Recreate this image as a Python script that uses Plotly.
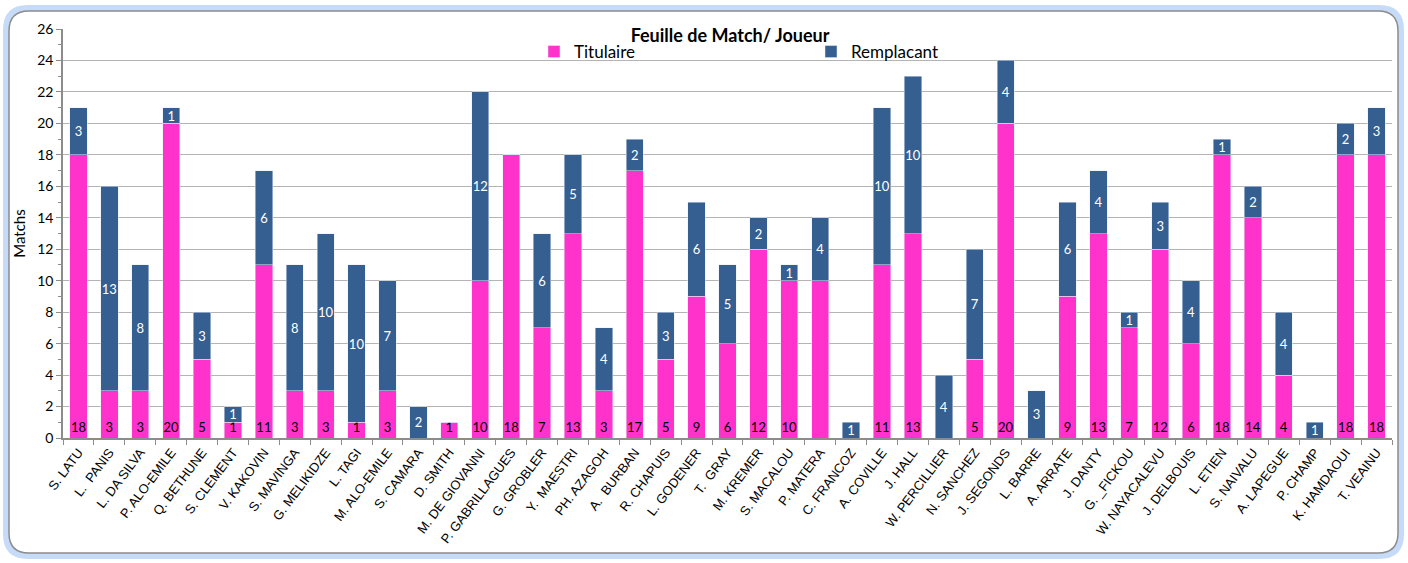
import plotly.graph_objects as go

players = ["S. LATU", "L.  PANIS", "L. DA SILVA", "P. ALO-EMILE", "Q. BETHUNE", "S. CLEMENT",
           "V. KAKOVIN", "S. MAVINGA", "G. MELIKIDZE", "L. TAGI", "M. ALO-EMILE", "S. CAMARA",
           "D. SMITH", "M. DE GIOVANNI", "P. GABRILLAGUES", "G. GROBLER", "Y.  MAESTRI",
           "PH. AZAGOH", "A.  BURBAN", "R. CHAPUIS", "L. GODENER", "T.  GRAY", "M. KREMER",
           "S. MACALOU", "P. MATERA", "C. FRANCOZ", "A. COVILLE", "J. HALL", "W. PERCILLIER",
           "N. SANCHEZ", "J. SEGONDS", "L. BARRE", "A. ARRATE", "J. DANTY", "G. _FICKOU",
           "W. NAYACALEVU", "J. DELBOUIS", "L. ETIEN", "S. NAIVALU", "A. LAPEGUE", "P. CHAMP",
           "K. HAMDAOUI", "T. VEAINU"]
titulaire = [18, 3, 3, 20, 5, 1, 11, 3, 3, 1, 3, 0, 1, 10, 18, 7, 13, 3, 17, 5, 9, 6, 12,
             10, 10, 0, 11, 13, 0, 5, 20, 0, 9, 13, 7, 12, 6, 18, 14, 4, 0, 18, 18]
remplacant = [3, 13, 8, 1, 3, 1, 6, 8, 10, 10, 7, 2, 0, 12, 0, 6, 5, 4, 2, 3, 6, 5, 2,
              1, 4, 1, 10, 10, 4, 7, 4, 3, 6, 4, 1, 3, 4, 1, 2, 4, 1, 2, 3]
# labels shown in the original (P. MATERA's starter label is not displayed)
titulaire_labels = [str(v) if v else "" for v in titulaire]
titulaire_labels[players.index("P. MATERA")] = ""
remplacant_labels = [str(v) if v else "" for v in remplacant]
y_ticks = list(range(0, 27, 2))

PINK = "#FF33CC"
BLUE = "#355F91"
CAL = "Lato, Carlito, sans-serif"

W, H = 1408, 563
ML, MR, MT, MB = 63, 16, 29, 125
PW, PH = W - ML - MR, H - MT - MB


def px(x):
    return (x - ML) / PW


def py(y):
    return (H - MB - y) / PH


def rounded_path(x0, y0, x1, y1, r):
    return (f"M {px(x0 + r)},{py(y0)} L {px(x1 - r)},{py(y0)} "
            f"Q {px(x1)},{py(y0)} {px(x1)},{py(y0 + r)} "
            f"L {px(x1)},{py(y1 - r)} Q {px(x1)},{py(y1)} {px(x1 - r)},{py(y1)} "
            f"L {px(x0 + r)},{py(y1)} Q {px(x0)},{py(y1)} {px(x0)},{py(y1 - r)} "
            f"L {px(x0)},{py(y0 + r)} Q {px(x0)},{py(y0)} {px(x0 + r)},{py(y0)} Z")


fig = go.Figure()
fig.add_trace(go.Bar(
    x=players, y=titulaire, name="Titulaire", marker_color=PINK,
    text=titulaire_labels, textposition="inside", insidetextanchor="start",
    constraintext="none", cliponaxis=False,
    textangle=0, textfont=dict(family=CAL, size=13, color="black"),
    hoverinfo="x+y"))
fig.add_trace(go.Bar(
    x=players, y=remplacant, name="Remplacant", marker_color=BLUE,
    text=remplacant_labels, textposition="inside", insidetextanchor="middle",
    constraintext="none", cliponaxis=False,
    textangle=0, textfont=dict(family=CAL, size=13, color="white"),
    hoverinfo="x+y"))

shapes = [
    dict(type="path", xref="paper", yref="paper", layer="below",
         path=rounded_path(6, 8, 1401, 556, 22),
         line=dict(color="rgba(150,190,240,0.55)", width=6)),
    dict(type="path", xref="paper", yref="paper", layer="below",
         path=rounded_path(9, 11, 1398, 553, 20),
         line=dict(color="#8C8C8C", width=1.5)),
]

fig.update_layout(
    width=W, height=H,
    barmode="stack", bargap=0.44,
    paper_bgcolor="white", plot_bgcolor="white",
    margin=dict(l=ML, r=MR, t=MT, b=MB, autoexpand=False),
    font=dict(family=CAL, color="black"),
    title=dict(text="<b>Feuille de Match/ Joueur</b>", x=730 / W, xanchor="center",
               y=1 - 36 / H, yanchor="middle",
               font=dict(family=CAL, size=18, color="black")),
    legend=dict(orientation="h", x=px(534), xanchor="left", y=py(52), yanchor="middle",
                entrywidth=232, entrywidthmode="pixels", bgcolor="rgba(0,0,0,0)",
                font=dict(family=CAL, size=17, color="black"),
                traceorder="normal"),
    shapes=shapes,
    showlegend=True,
)
fig.update_xaxes(
    type="category", tickangle=-53, tickson="boundaries", ticks="outside", ticklen=5,
    tickcolor="#8C8C8C", showline=True, linecolor="#8C8C8C", linewidth=1.5,
    showgrid=False, tickfont=dict(family="Liberation Sans, Arial, sans-serif", size=13),
    range=[-0.5, len(players) - 0.5], automargin=False)
fig.update_yaxes(
    range=[0, 26], tickvals=y_ticks, ticks="outside", ticklen=5, tickcolor="#8C8C8C",
    showline=True, linecolor="#8C8C8C", linewidth=1.5,
    showgrid=True, gridcolor="#B4B4B4", gridwidth=1.2, zeroline=False,
    minor=dict(ticks="outside", ticklen=3, dtick=1, tickcolor="#8C8C8C", showgrid=False),
    tickfont=dict(family=CAL, size=14), automargin=False,
    title=dict(text="Matchs", font=dict(family=CAL, size=15), standoff=8))

fig.write_html("out.html", config={"displayModeBar": False},
               post_script="document.body.style.margin='0';")
